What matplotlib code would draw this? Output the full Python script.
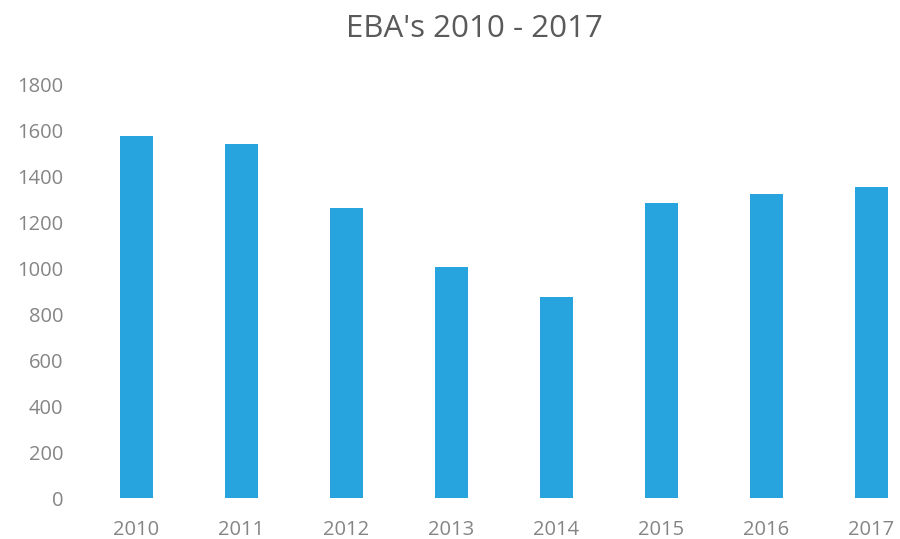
import matplotlib.pyplot as plt

# datos del grafico
years = ["2010", "2011", "2012", "2013", "2014", "2015", "2016", "2017"]
ebas = [1572, 1538, 1260, 1004, 874, 1282, 1322, 1351]
y_ticks = [0, 200, 400, 600, 800, 1000, 1200, 1400, 1600, 1800]

plt.rcParams["font.family"] = ["Open Sans", "DejaVu Sans"]

fig = plt.figure(figsize=(9, 5.39), dpi=100)
ax = fig.add_axes([84 / 900, 41 / 539, 840 / 900, 414 / 539])

ax.bar(range(len(years)), ebas, width=0.315, color="#27a3de")

ax.set_xlim(-0.5, len(years) - 0.5)
ax.set_ylim(0, 1800)
ax.set_yticks(y_ticks)
ax.set_xticks(range(len(years)))
ax.set_xticklabels(years)

for s in ax.spines.values():
    s.set_visible(False)
ax.tick_params(axis="both", length=0, colors="#858585", labelsize=14.5)
ax.tick_params(axis="y", pad=15)
ax.tick_params(axis="x", pad=16)

fig.text(0.527, 0.947, "EBA's 2010 - 2017", ha="center", va="center",
         fontsize=22.5, color="#5a5a5a")

plt.savefig("out.png", dpi=100)
